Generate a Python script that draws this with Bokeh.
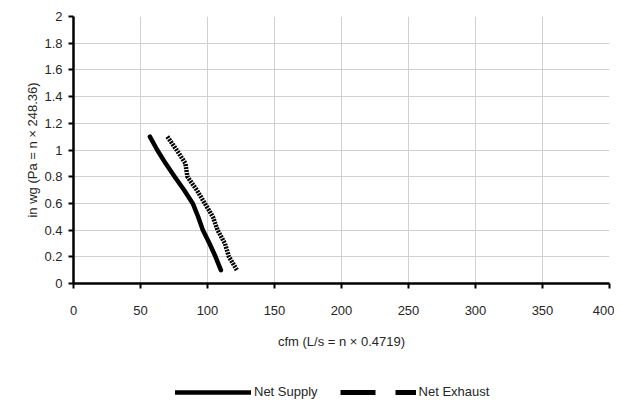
from bokeh.plotting import figure
from bokeh.layouts import column
from bokeh.models import Range1d, FixedTicker, Legend, LegendItem, ColumnDataSource
from bokeh.embed import file_html
from bokeh.resources import INLINE

# Data
supply_pressure = [1.1, 1.0, 0.9, 0.8, 0.7, 0.6, 0.5, 0.4, 0.3, 0.2, 0.1]
supply_cfm = [57, 62.5, 68.7, 75.5, 82.5, 89, 93, 96.5, 101.5, 106, 110]
exhaust_pressure = [1.1, 1.0, 0.9, 0.8, 0.7, 0.6, 0.5, 0.4, 0.3, 0.2, 0.1]
exhaust_cfm = [70, 77, 83.5, 85, 92, 98, 104, 107.5, 113, 116, 122]

x_ticks = [0, 50, 100, 150, 200, 250, 300, 350, 400]
y_ticks = [0, 0.2, 0.4, 0.6, 0.8, 1.0, 1.2, 1.4, 1.6, 1.8, 2.0]
y_tick_labels = ["0", "0.2", "0.4", "0.6", "0.8", "1", "1.2", "1.4", "1.6", "1.8", "2"]

FONT = "Liberation Sans"
TXT = "#262626"

p = figure(width=614, height=362, output_backend="svg", toolbar_location=None,
           x_range=Range1d(0, 400), y_range=Range1d(0, 2),
           min_border_left=73, min_border_right=5, min_border_top=16, min_border_bottom=79)
p.outline_line_color = None
p.background_fill_color = "white"

for ax in (p.xaxis[0], p.yaxis[0]):
    ax.axis_line_width = 2.5
    ax.axis_line_color = "black"
    ax.major_tick_line_width = 2
    ax.major_tick_line_color = "black"
    ax.major_tick_out = 5
    ax.major_tick_in = 0
    ax.minor_tick_line_color = None
    ax.major_label_text_font = FONT
    ax.major_label_text_font_size = "13px"
    ax.major_label_text_color = TXT
    ax.axis_label_text_font = FONT
    ax.axis_label_text_font_size = "13px"
    ax.axis_label_text_font_style = "normal"
    ax.axis_label_text_color = TXT

p.xaxis.ticker = FixedTicker(ticks=x_ticks)
p.yaxis.ticker = FixedTicker(ticks=y_ticks)
p.yaxis.major_label_overrides = {t: l for t, l in zip(y_ticks, y_tick_labels)}
p.xaxis.axis_label = "cfm (L/s = n × 0.4719)"
p.yaxis.axis_label = "in wg (Pa = n × 248.36)"
p.xaxis.major_label_standoff = 17
p.xaxis.axis_label_standoff = 16
p.yaxis.major_label_standoff = 6
p.yaxis.axis_label_standoff = 1

p.xgrid.grid_line_color = "#d0d0d0"
p.ygrid.grid_line_color = "#d0d0d0"
p.xgrid.grid_line_width = 1
p.ygrid.grid_line_width = 1

p.line(supply_cfm, supply_pressure, line_color="black", line_width=4.5, line_cap="round", line_join="round")
p.line(exhaust_cfm, exhaust_pressure, line_color="black", line_width=4.5, line_dash="2 1")

# Legend strip below the chart (legend-only renderers sit outside its visible range)
lg = figure(width=614, height=40, output_backend="svg", toolbar_location=None,
            x_axis_type=None, y_axis_type=None, min_border=0,
            x_range=Range1d(0, 1), y_range=Range1d(0, 1))
lg.outline_line_color = None
hidden = ColumnDataSource(data=dict(x=[-5, -4], y=[-5, -5]))
leg_s = lg.line("x", "y", source=hidden, line_color="black", line_width=4.5, line_cap="round")
leg_e = lg.line("x", "y", source=hidden, line_color="black", line_width=5, line_dash="35 20")

legend = Legend(items=[LegendItem(label="Net Supply", renderers=[leg_s]),
                       LegendItem(label="Net Exhaust", renderers=[leg_e])],
                orientation="horizontal", location=(102, 3),
                glyph_width=76, glyph_height=10, label_standoff=3, spacing=22,
                label_text_font=FONT, label_text_font_size="13px", label_text_color=TXT,
                label_height=14, border_line_color=None, background_fill_alpha=0,
                padding=0, margin=0)
lg.add_layout(legend, "center")

open("out.html", "w").write(file_html(column(p, lg, spacing=0), INLINE))
